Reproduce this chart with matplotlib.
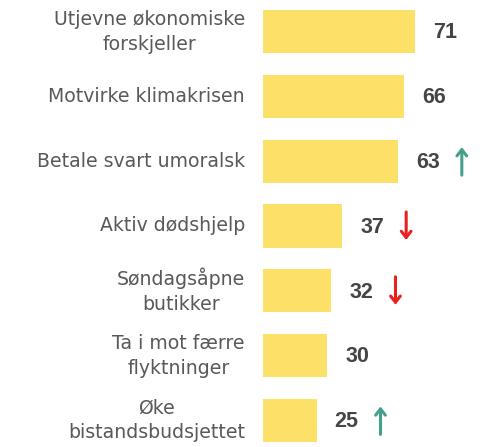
import matplotlib
matplotlib.use("Agg")
import matplotlib.pyplot as plt
from matplotlib.transforms import offset_copy

categories = ["Utjevne økonomiske\nforskjeller", "Motvirke klimakrisen", "Betale svart umoralsk",
              "Aktiv dødshjelp", "Søndagsåpne\nbutikker", "Ta i mot færre\nflyktninger",
              "Øke\nbistandsbudsjettet"]
values = [71, 66, 63, 37, 32, 30, 25]
trend = [0, 0, 1, -1, -1, 0, 1]  # 1 = up, -1 = down, 0 = none

BAR = "#FCE068"
LABEL = "#595959"
NUM = "#454545"
UP = "#44A08B"
DOWN = "#E8201E"

dpi = 100
fig = plt.figure(figsize=(493 / dpi, 447 / dpi), dpi=dpi)
ax = fig.add_axes([263 / 493, 0, 214 / 493, 1])
ax.set_xlim(0, 100)
ax.set_ylim(6.41, -0.486)
ax.axis("off")

ypos = list(range(len(values)))
ax.barh(ypos, values, height=0.665, color=BAR)

for i, (cat, v, t) in enumerate(zip(categories, values, trend)):
    ax.annotate(cat, xy=(0, i), xytext=(-13, 0), textcoords="offset points",
                ha="right", va="center", multialignment="center",
                fontsize=13.6, color=LABEL, family="DejaVu Sans", linespacing=1.4,
                annotation_clip=False)
    ax.annotate(str(v), xy=(v, i), xytext=(13, -1), textcoords="offset points",
                ha="left", va="center", fontsize=15.5, fontweight="bold",
                color=NUM, family="Liberation Sans", annotation_clip=False)
    if t != 0:
        col = UP if t > 0 else DOWN
        top = offset_copy(ax.transData, fig=fig, x=(18 + 46), y=14, units="dots")
        bot = offset_copy(ax.transData, fig=fig, x=(18 + 46), y=-14, units="dots")
        if t > 0:
            ax.annotate("", xy=(v, i), xycoords=top, xytext=(v, i), textcoords=bot,
                        arrowprops=dict(arrowstyle="->,head_length=0.45,head_width=0.35",
                                        color=col, lw=2.2, shrinkA=0, shrinkB=0),
                        annotation_clip=False)
        else:
            ax.annotate("", xy=(v, i), xycoords=bot, xytext=(v, i), textcoords=top,
                        arrowprops=dict(arrowstyle="->,head_length=0.45,head_width=0.35",
                                        color=col, lw=2.2, shrinkA=0, shrinkB=0),
                        annotation_clip=False)

fig.savefig("out.png", dpi=dpi)
